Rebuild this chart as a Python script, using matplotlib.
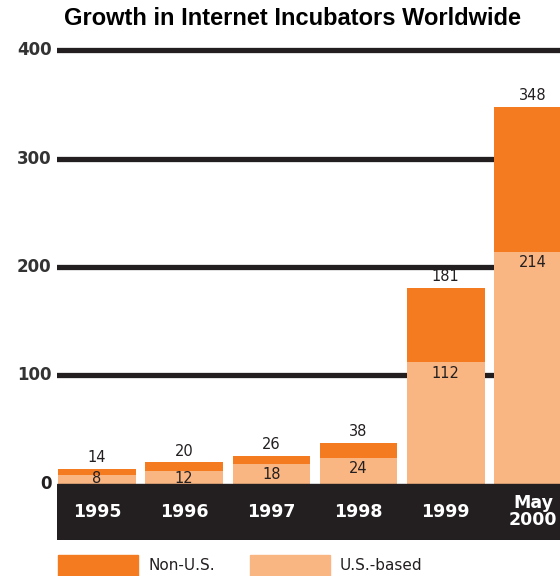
import matplotlib.pyplot as plt
from matplotlib.patches import Rectangle

# Data
years = ['1995', '1996', '1997', '1998', '1999', 'May\n2000']
total = [14, 20, 26, 38, 181, 348]
us_based = [8, 12, 18, 24, 112, 214]
non_us = [t - u for t, u in zip(total, us_based)]
y_ticks = [0, 100, 200, 300, 400]

dark_orange = '#F47B20'
light_orange = '#F9B582'
ink = '#231F20'

fig = plt.figure(figsize=(5.6, 5.76), dpi=100)
ax = fig.add_axes([0.102, 0.0625, 0.898, 0.8595])

x = list(range(len(years)))

# thick gridlines behind the bars
for t in y_ticks[1:]:
    ax.axhline(t, color=ink, lw=3.8, zorder=1)
    ax.text(-0.52, t, str(t), ha='right', va='center', fontsize=12,
            fontweight='bold', color='#333333')
ax.text(-0.52, 0, '0', ha='right', va='center', fontsize=12,
        fontweight='bold', color=ink)

ax.bar(x, us_based, width=0.89, color=light_orange, zorder=2)
ax.bar(x, non_us, bottom=us_based, width=0.89, color=dark_orange, zorder=2)

# value labels
for i in x:
    ax.text(i, total[i] + 3, str(total[i]), ha='center', va='bottom',
            fontsize=10.5, color=ink, zorder=3)
    ax.text(i, max(us_based[i] - 3, 12), str(us_based[i]), ha='center',
            va='top', fontsize=10.5, color=ink, zorder=3)

# black band with year labels
ax.axhspan(-52, 0, color=ink, zorder=4)
for i in x:
    ax.text(i, -26, years[i], ha='center', va='center', fontsize=12.5,
            fontweight='bold', color='white', linespacing=0.95, zorder=5)

ax.set_xlim(-0.457, 5.31)
ax.set_ylim(-52, 405)
ax.axis('off')

fig.text(0.522, 0.968, 'Growth in Internet Incubators Worldwide',
         ha='center', va='center', fontsize=17, fontweight='bold',
         family='Liberation Sans')

# legend
fig.add_artist(Rectangle((58 / 560, 0), 80 / 560, 21 / 576,
                         transform=fig.transFigure, color=dark_orange))
fig.text(148 / 560, 10 / 576, 'Non-U.S.', va='center', fontsize=11, color=ink)
fig.add_artist(Rectangle((250 / 560, 0), 80 / 560, 21 / 576,
                         transform=fig.transFigure, color=light_orange))
fig.text(340 / 560, 10 / 576, 'U.S.-based', va='center', fontsize=11, color=ink)

fig.savefig('out.png', dpi=100)
